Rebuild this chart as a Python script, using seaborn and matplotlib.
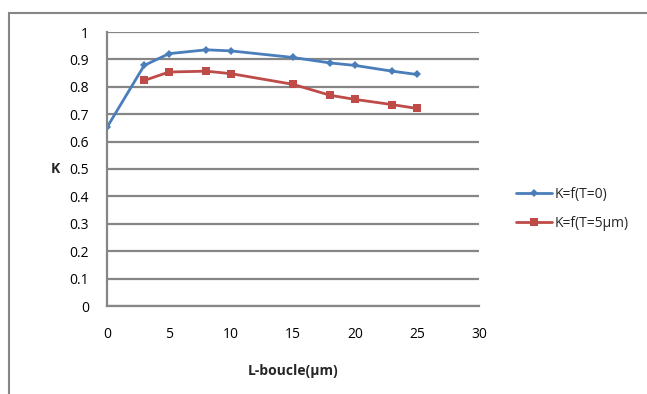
import matplotlib
matplotlib.use("Agg")
import matplotlib.pyplot as plt
import seaborn as sns
import pandas as pd
from matplotlib.patches import Rectangle

# data
x_t0 = [0, 3, 5, 8, 10, 15, 18, 20, 23, 25]
k_t0 = [0.652, 0.878, 0.921, 0.935, 0.931, 0.907, 0.887, 0.878, 0.857, 0.845]
x_t5 = [3, 5, 8, 10, 15, 18, 20, 23, 25]
k_t5 = [0.823, 0.854, 0.857, 0.848, 0.809, 0.769, 0.754, 0.735, 0.721]
labels = ["K=f(T=0)", "K=f(T=5µm)"]

df = pd.concat([
    pd.DataFrame({"L": x_t0, "K": k_t0, "serie": labels[0]}),
    pd.DataFrame({"L": x_t5, "K": k_t5, "serie": labels[1]}),
])

sns.set_theme(style="white")
plt.rcParams["font.family"] = ["Open Sans", "DejaVu Sans"]

fig = plt.figure(figsize=(6.47, 3.94), dpi=100)
ax = fig.add_axes([107 / 647, 1 - 306 / 394, 372 / 647, 274 / 394])

grey = "#868686"
palette = {labels[0]: "#4A7EBB", labels[1]: "#BE4B48"}
markers = {labels[0]: "D", labels[1]: "s"}

for name, sub in df.groupby("serie", sort=False):
    sns.lineplot(data=sub, x="L", y="K", ax=ax, color=palette[name],
                 marker=markers[name], markersize=4 if name == labels[0] else 6,
                 markeredgewidth=0, linewidth=2, label=name)

ax.set_xlim(0, 30)
ax.set_ylim(0, 1)
ax.set_xticks(range(0, 31, 5))
ax.set_yticks([i / 10 for i in range(11)])
ax.set_yticklabels(["0"] + [f"{i/10:g}" for i in range(1, 10)] + ["1"])
ax.yaxis.grid(True, color=grey, linewidth=1.6)
ax.xaxis.grid(False)
for s in ["top", "right"]:
    ax.spines[s].set_visible(False)
for s in ["left", "bottom"]:
    ax.spines[s].set_color(grey)
    ax.spines[s].set_linewidth(1.6)
ax.tick_params(axis="both", which="both", direction="out", length=5, width=1.6,
               color=grey, labelsize=10, labelcolor="black", pad=8)
ax.tick_params(axis="x", pad=10)

ax.set_xlabel("L-boucle(µm)", fontsize=10, fontweight="bold", labelpad=16)
ax.set_ylabel("K", fontsize=10, fontweight="bold", rotation=0, va="center")
ax.yaxis.set_label_coords(-0.14, 0.5)

ax.legend(loc="center left", bbox_to_anchor=(1.066, 0.354), frameon=False,
          fontsize=10, handlelength=2.6, labelspacing=1.0, handletextpad=0.15)

fig.patches.append(Rectangle((9 / 647, -0.1), 1.0, 1 - 13 / 394 + 0.1,
                             transform=fig.transFigure, fill=False,
                             edgecolor=grey, linewidth=1.5))

fig.savefig("out.png", dpi=100)
